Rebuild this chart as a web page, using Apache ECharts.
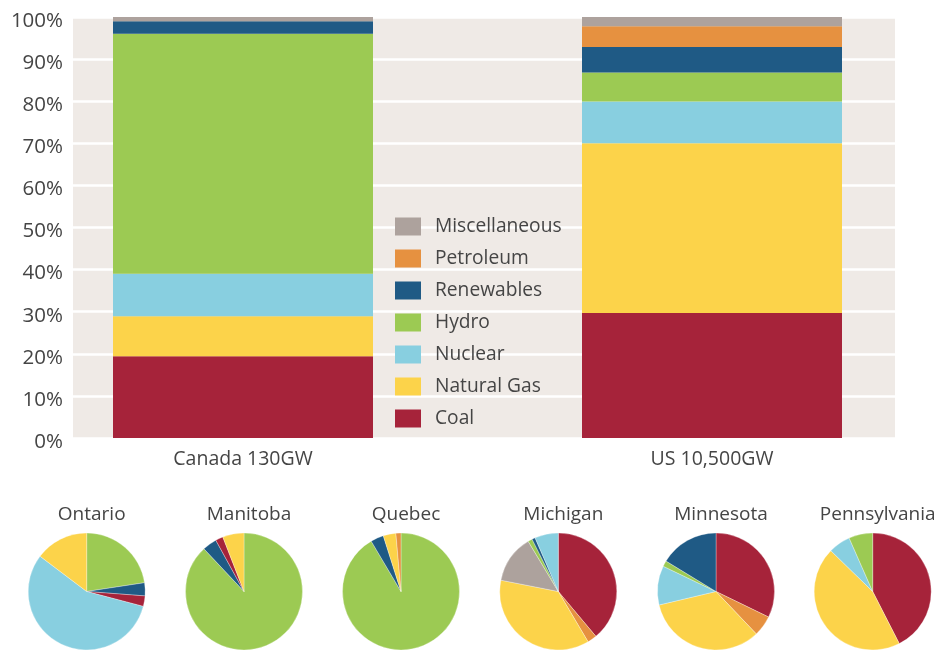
<!DOCTYPE html>
<html>
<head>
<meta charset="utf-8">
<script src="https://cdn.jsdelivr.net/npm/echarts@6/dist/echarts.min.js"></script>
<style>html,body{margin:0;padding:0;background:#fff;}#c{width:934px;height:650px;}</style>
</head>
<body>
<div id="c"></div>
<script>
// Fuels in stacking order (bottom to top)
const fuels = ['Coal', 'Natural Gas', 'Nuclear', 'Hydro', 'Renewables', 'Petroleum', 'Miscellaneous'];
const fuelColors = ['#a6233a', '#fcd34a', '#88cfe0', '#9cca53', '#1f5a85', '#e69140', '#ada29d'];
const barCategories = ['Canada 130GW', 'US 10,500GW'];
const canadaShares = [19.4, 9.5, 10.1, 57.0, 3.0, 0, 1.0];
const usShares = [29.7, 40.3, 9.9, 6.9, 6.1, 4.9, 2.2];
const yTicks = [0, 10, 20, 30, 40, 50, 60, 70, 80, 90, 100];

// Pie slices, clockwise from 12 o'clock
const pieTitles = ['Ontario', 'Manitoba', 'Quebec', 'Michigan', 'Minnesota', 'Pennsylvania'];
const ontario = [['Hydro', 22.6], ['Renewables', 3.6], ['Coal', 2.9], ['Nuclear', 56.2], ['Natural Gas', 14.7]];
const manitoba = [['Hydro', 88.0], ['Renewables', 4.0], ['Coal', 2.1], ['Natural Gas', 5.9]];
const quebec = [['Hydro', 91.5], ['Renewables', 3.6], ['Natural Gas', 3.5], ['Petroleum', 1.4]];
const michigan = [['Coal', 38.9], ['Petroleum', 2.6], ['Natural Gas', 36.6], ['Miscellaneous', 13.3], ['Hydro', 1.2], ['Renewables', 0.9], ['Nuclear', 6.5]];
const minnesota = [['Coal', 32.2], ['Petroleum', 5.7], ['Natural Gas', 33.4], ['Nuclear', 10.8], ['Hydro', 1.6], ['Renewables', 16.3]];
const pennsylvania = [['Coal', 42.5], ['Natural Gas', 44.8], ['Nuclear', 6.1], ['Hydro', 6.6]];
const pieSets = [ontario, manitoba, quebec, michigan, minnesota, pennsylvania];

const colorOf = {};
fuels.forEach((f, i) => colorOf[f] = fuelColors[i]);

const FONT = '"Open Sans", "Noto Sans", sans-serif';
const TXT = '#454545';

const pieCentersX = [86.7, 244, 401, 558.3, 716, 872.7];
const pieCenterY = 591.5;

const series = [];
fuels.forEach((f, i) => {
  series.push({
    name: f, type: 'bar', stack: 'total', xAxisIndex: 1, yAxisIndex: 1,
    barWidth: 260, silent: true,
    itemStyle: { color: fuelColors[i] },
    data: [canadaShares[i], usShares[i]]
  });
});
pieSets.forEach((set, k) => {
  series.push({
    type: 'pie', silent: true, startAngle: 90, clockwise: true,
    center: [pieCentersX[k], pieCenterY], radius: 58.5,
    label: { show: false }, labelLine: { show: false },
    itemStyle: { borderColor: 'rgba(255,255,255,0.6)', borderWidth: 0.5 },
    data: set.map(([n, v]) => ({ name: n, value: v, itemStyle: { color: colorOf[n] } }))
  });
});

const option = {
  animation: false,
  textStyle: { fontFamily: FONT },
  title: pieTitles.map((t, k) => ({
    text: t, left: pieCentersX[k], top: 500, textAlign: 'center',
    textStyle: { fontFamily: FONT, fontSize: 19, fontWeight: 'normal', color: TXT }
  })),
  grid: [
    { left: 73, right: 39, top: 17, bottom: 212, show: true, backgroundColor: '#efeae6', borderWidth: 0, outerBoundsMode: 'none' },
    { left: 8.5, width: 938, top: 17, bottom: 212, outerBoundsMode: 'none', containLabel: false }
  ],
  xAxis: [
    { type: 'category', gridIndex: 0, data: barCategories, show: false },
    { type: 'category', gridIndex: 1, data: barCategories,
      axisLine: { show: false }, axisTick: { show: false },
      axisLabel: { fontFamily: FONT, fontSize: 19.5, color: TXT, margin: 11 } }
  ],
  yAxis: [
    { type: 'value', gridIndex: 0, min: yTicks[0], max: yTicks[yTicks.length - 1], interval: 10,
      axisLine: { show: false }, axisTick: { show: false },
      splitLine: { show: true, lineStyle: { color: '#ffffff', width: 2.5 } },
      axisLabel: {
        formatter: v => '{t|' + v + '%}', margin: 10,
        rich: { t: { fontFamily: FONT, fontSize: 20.5, color: TXT, padding: [8, 0, 0, 0] } }
      } },
    { type: 'value', gridIndex: 1, min: 0, max: 100, show: false, splitLine: { show: false } }
  ],
  legend: {
    orient: 'vertical', left: 390, top: 212,
    data: fuels.slice().reverse(),
    icon: 'rect', itemWidth: 26, itemHeight: 18, itemGap: 13.0,
    selectedMode: false,
    textStyle: { fontFamily: FONT, fontSize: 19.2, color: TXT, padding: [0, 0, 0, 9] }
  },
  series: series
};

const chart = echarts.init(document.getElementById('c'), null, { renderer: 'canvas' });
chart.setOption(option);
</script>
</body>
</html>
